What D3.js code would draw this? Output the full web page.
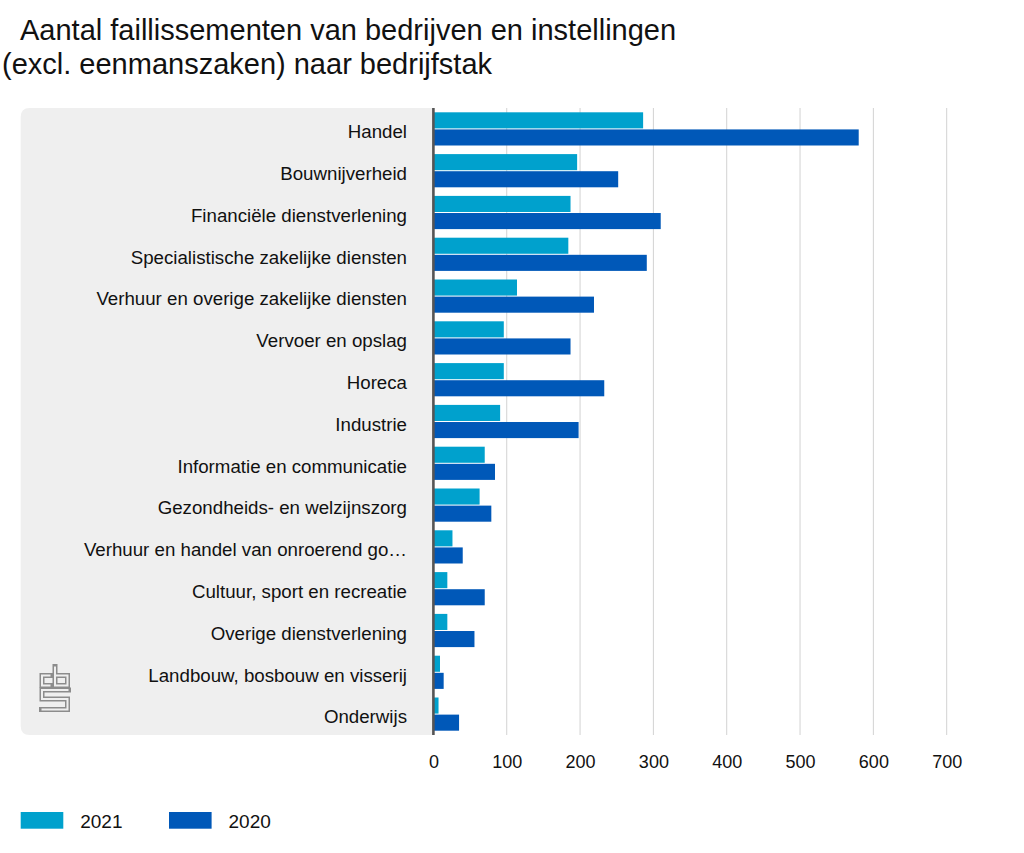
<!DOCTYPE html>
<html>
<head>
<meta charset="utf-8">
<script src="https://cdn.jsdelivr.net/npm/d3@7"></script>
<style>
  html, body { margin: 0; padding: 0; background: #fff; }
  svg { display: block; font-family: "Liberation Sans", Arial, Helvetica, sans-serif; }
</style>
</head>
<body>
<svg id="chart" width="1024" height="853"></svg>
<script>
const titleLines = [
  "Aantal faillissementen van bedrijven en instellingen",
  "(excl. eenmanszaken) naar bedrijfstak"
];
const categories = [
  "Handel",
  "Bouwnijverheid",
  "Financiële dienstverlening",
  "Specialistische zakelijke diensten",
  "Verhuur en overige zakelijke diensten",
  "Vervoer en opslag",
  "Horeca",
  "Industrie",
  "Informatie en communicatie",
  "Gezondheids- en welzijnszorg",
  "Verhuur en handel van onroerend go…",
  "Cultuur, sport en recreatie",
  "Overige dienstverlening",
  "Landbouw, bosbouw en visserij",
  "Onderwijs"
];
const seriesNames = ["2021", "2020"];
const values2021 = [286, 196, 187, 184, 114, 96, 96, 91, 70, 63, 26, 19, 19, 9, 7];
const values2020 = [580, 252, 310, 291, 219, 187, 233, 198, 84, 79, 40, 70, 56, 14, 35];
const tickValues = [0, 100, 200, 300, 400, 500, 600, 700];
const colors = ["#00a1cd", "#0058b8"];

(function () {
const svg = d3.select("#chart");

// Title
svg.append("g").selectAll("text").data(titleLines).join("text")
  .attr("x", (d, i) => i === 0 ? 20 : 2)
  .attr("y", (d, i) => 40 + i * 34)
  .attr("font-size", 29)
  .attr("fill", "#111")
  .text(d => d);

const yTop = 108, yBottom = 735, left0 = 433.4;
const x = d3.scaleLinear().domain([0, 700]).range([left0, left0 + 513.3]);
const y = d3.scaleBand().domain(categories).range([yTop, yBottom]);
const inner = d3.scaleBand().domain(seriesNames)
  .range([4.3, y.bandwidth() - 4.3]).paddingInner(0.06);

// Grey label panel
svg.append("path")
  .attr("d", (() => {
    const l = 20.7, r = left0, t = yTop, b = yBottom, rr = 9;
    return `M${r},${t} H${l + rr} Q${l},${t} ${l},${t + rr} V${b - rr} Q${l},${b} ${l + rr},${b} H${r} Z`;
  })())
  .attr("fill", "#efefef");

// Gridlines
svg.append("g").selectAll("line").data(tickValues.filter(d => d > 0)).join("line")
  .attr("x1", d => x(d)).attr("x2", d => x(d))
  .attr("y1", yTop).attr("y2", yBottom)
  .attr("stroke", "#d2d2d2").attr("stroke-width", 1);

// Bars
const data = categories.map((c, i) => ({ cat: c, vals: [values2021[i], values2020[i]] }));
const groups = svg.append("g").selectAll("g").data(data).join("g")
  .attr("transform", d => `translate(0,${y(d.cat)})`);
groups.selectAll("rect").data(d => d.vals.map((v, j) => ({ s: seriesNames[j], v, j }))).join("rect")
  .attr("x", x(0))
  .attr("y", d => inner(d.s))
  .attr("width", d => x(d.v) - x(0))
  .attr("height", inner.bandwidth())
  .attr("fill", d => colors[d.j]);

// Axis line at zero
svg.append("line")
  .attr("x1", x(0)).attr("x2", x(0))
  .attr("y1", yTop).attr("y2", yBottom)
  .attr("stroke", "#555").attr("stroke-width", 2.6);

// Category labels
svg.append("g").selectAll("text").data(categories).join("text")
  .attr("x", 407)
  .attr("y", d => y(d) + y.bandwidth() / 2 + 9.3)
  .attr("text-anchor", "end")
  .attr("font-size", 18.7)
  .attr("fill", "#111")
  .text(d => d);

// X axis tick labels
const xAxis = d3.axisBottom(x).tickValues(tickValues).tickSize(0).tickPadding(0);
const axG = svg.append("g").attr("transform", `translate(0,${yBottom})`).call(xAxis);
axG.select(".domain").remove();
axG.selectAll("text")
  .attr("y", 33).attr("dy", 0)
  .attr("font-size", 18)
  .attr("font-family", "Liberation Sans, Arial, sans-serif")
  .attr("fill", "#111");

// CBS logo
const logo = svg.append("g").attr("transform", "translate(40,665)").attr("fill", "none");
const logoPaths = [
  "M10.5,10.5 H2 V20.5 H10.5",
  "M15,1.5 V20.5 H27.5 V10.5 H15",
  "M28.5,25 H2 V34 H27.5 V44.5 H1.5"
];
logo.selectAll("path.o").data(logoPaths).join("path").attr("class", "o")
  .attr("d", d => d).attr("stroke", "#8c8c8c").attr("stroke-width", 5)
  .attr("stroke-linecap", "square").attr("stroke-linejoin", "miter");
logo.selectAll("path.i").data(logoPaths).join("path").attr("class", "i")
  .attr("d", d => d).attr("stroke", "#efefef").attr("stroke-width", 2)
  .attr("stroke-linecap", "butt").attr("stroke-linejoin", "miter");

// Legend
const legend = svg.append("g").selectAll("g").data(seriesNames).join("g")
  .attr("transform", (d, i) => `translate(${i === 0 ? 20.7 : 169},812)`);
legend.append("rect").attr("width", 42.6).attr("height", 16.7)
  .attr("fill", (d, i) => colors[i]);
legend.append("text").attr("x", 59.5).attr("y", 15.7)
  .attr("font-size", 19).attr("fill", "#111").text(d => d);
})();
</script>
</body>
</html>
